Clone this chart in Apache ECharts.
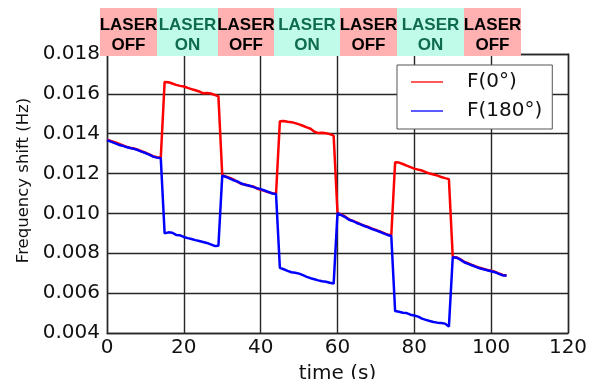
<!DOCTYPE html>
<html>
<head>
<meta charset="utf-8">
<script src="https://cdn.jsdelivr.net/npm/echarts@6/dist/echarts.min.js"></script>
<style>
  html, body { margin: 0; padding: 0; background: #fff; }
  #main { width: 589px; height: 379px; }
</style>
</head>
<body>
<div id="main"></div>
<script>
// time (s), one sample per second
var timeS = [
  0, 1, 2, 3, 4, 5, 6, 7, 8, 9, 10, 11, 12, 13, 14,
  15, 16, 17, 18, 19, 20, 21, 22, 23, 24, 25, 26, 27, 28, 29,
  30, 31, 32, 33, 34, 35, 36, 37, 38, 39, 40, 41, 42, 43, 44,
  45, 46, 47, 48, 49, 50, 51, 52, 53, 54, 55, 56, 57, 58, 59,
  60, 61, 62, 63, 64, 65, 66, 67, 68, 69, 70, 71, 72, 73, 74,
  75, 76, 77, 78, 79, 80, 81, 82, 83, 84, 85, 86, 87, 88, 89,
  90, 91, 92, 93, 94, 95, 96, 97, 98, 99, 100, 101, 102, 103, 104
]

// F(0°)
var f0 = [
  0.01370, 0.01364, 0.01358, 0.01350, 0.01342, 0.01335, 0.01330, 0.01326, 0.01320, 0.01312, 0.01305, 0.01296, 0.01287, 0.01282, 0.01280,
  0.01660, 0.01658, 0.01652, 0.01645, 0.01640, 0.01637, 0.01630, 0.01624, 0.01618, 0.01612, 0.01603, 0.01604, 0.01602, 0.01595, 0.01588,
  0.01192, 0.01185, 0.01178, 0.01170, 0.01158, 0.01148, 0.01145, 0.01138, 0.01136, 0.01125, 0.01118, 0.01113, 0.01106, 0.01102, 0.01098,
  0.01462, 0.01464, 0.01460, 0.01458, 0.01453, 0.01447, 0.01440, 0.01432, 0.01425, 0.01410, 0.01403, 0.01405, 0.01402, 0.01398, 0.01390,
  0.01003, 0.00994, 0.00984, 0.00970, 0.00963, 0.00955, 0.00946, 0.00938, 0.00932, 0.00924, 0.00917, 0.00910, 0.00902, 0.00894, 0.00889,
  0.01257, 0.01255, 0.01248, 0.01240, 0.01232, 0.01225, 0.01220, 0.01215, 0.01207, 0.01200, 0.01195, 0.01190, 0.01183, 0.01177, 0.01172,
  0.00782, 0.00779, 0.00770, 0.00757, 0.00750, 0.00741, 0.00734, 0.00727, 0.00722, 0.00716, 0.00712, 0.00707, 0.00699, 0.00691, 0.00688
]

// F(180°)
var f180 = [
  0.01368, 0.01360, 0.01353, 0.01345, 0.01340, 0.01333, 0.01328, 0.01324, 0.01318, 0.01310, 0.01303, 0.01295, 0.01285, 0.01280, 0.01277,
  0.00900, 0.00905, 0.00903, 0.00892, 0.00890, 0.00882, 0.00876, 0.00872, 0.00866, 0.00862, 0.00857, 0.00852, 0.00845, 0.00837, 0.00838,
  0.01190, 0.01183, 0.01175, 0.01166, 0.01160, 0.01150, 0.01143, 0.01140, 0.01133, 0.01127, 0.01122, 0.01115, 0.01108, 0.01100, 0.01097,
  0.00727, 0.00720, 0.00712, 0.00705, 0.00702, 0.00698, 0.00690, 0.00682, 0.00675, 0.00670, 0.00664, 0.00660, 0.00657, 0.00652, 0.00648,
  0.01002, 0.00992, 0.00982, 0.00968, 0.00962, 0.00952, 0.00945, 0.00937, 0.00930, 0.00922, 0.00915, 0.00908, 0.00900, 0.00892, 0.00887,
  0.00510, 0.00507, 0.00502, 0.00500, 0.00492, 0.00488, 0.00482, 0.00472, 0.00466, 0.00460, 0.00455, 0.00452, 0.00450, 0.00447, 0.00432,
  0.00780, 0.00778, 0.00768, 0.00755, 0.00747, 0.00740, 0.00732, 0.00725, 0.00720, 0.00715, 0.00710, 0.00705, 0.00697, 0.00690, 0.00687
]

var seriesNames = ['F(0°)', 'F(180°)']
var laserStates = ['OFF', 'ON', 'OFF', 'ON', 'OFF', 'ON', 'OFF']

// layout of the laser boxes above the plot (px)
var boxEdges = [100, 157, 218, 274, 340, 397, 464, 521]

function pairs(xs, ys) {
  return xs.map(function (x, i) { return [x, ys[i]] })
}

var chart = echarts.init(document.getElementById('main'))

var tickFont = { color: '#111', fontSize: 20, fontFamily: 'DejaVu Sans' }
var gridLine = { show: true, lineStyle: { color: '#262626', width: 1.4 } }
var spine = { show: true, onZero: false, lineStyle: { color: '#262626', width: 1.4 } }
var inTick = { show: true, inside: true, length: 5, lineStyle: { color: '#262626' } }

var boxes = []
laserStates.forEach(function (state, i) {
  var x0 = boxEdges[i]
  var x1 = boxEdges[i + 1]
  var on = state === 'ON'
  boxes.push({
    type: 'rect',
    z: 100,
    shape: { x: x0, y: 8, width: x1 - x0, height: 48 },
    style: { fill: on ? '#c0fbea' : '#ffb0b0' }
  })
  boxes.push({
    type: 'text',
    z: 101,
    x: (x0 + x1) / 2,
    y: 35,
    style: {
      text: 'LASER\n' + state,
      fill: on ? '#0f6b4d' : '#000',
      font: 'bold 17px "Liberation Sans", Arial',
      lineHeight: 20,
      align: 'center',
      verticalAlign: 'middle'
    }
  })
})

var option = {
  animation: false,
  grid: { left: 107, right: 21, top: 54, bottom: 46, outerBoundsMode: 'none' },
  legend: {
    left: 397,
    top: 65,
    orient: 'vertical',
    data: seriesNames,
    icon: 'rect',
    backgroundColor: '#fff',
    borderColor: '#555',
    borderWidth: 1,
    borderRadius: 0,
    padding: [7, 10, 8, 14],
    itemWidth: 32,
    itemHeight: 1.3,
    itemGap: 9,
    textStyle: {
      color: '#111',
      fontSize: 20,
      lineHeight: 20,
      fontFamily: 'DejaVu Sans',
      padding: [0, 0, 0, 19]
    }
  },
  xAxis: [
    {
      type: 'value',
      min: 0,
      max: 120,
      interval: 20,
      name: 'time (s)',
      nameLocation: 'middle',
      nameGap: 31,
      nameTextStyle: { color: '#111', fontSize: 20, fontFamily: 'DejaVu Sans' },
      axisLine: spine,
      axisTick: inTick,
      axisLabel: Object.assign({ margin: 5 }, tickFont),
      splitLine: gridLine
    },
    {
      type: 'value',
      position: 'top',
      min: 0,
      max: 120,
      interval: 20,
      axisLine: spine,
      axisTick: inTick,
      axisLabel: { show: false },
      splitLine: { show: false }
    }
  ],
  yAxis: [
    {
      type: 'value',
      min: 0.004,
      max: 0.018,
      interval: 0.002,
      name: 'Frequency shift (Hz)',
      nameLocation: 'middle',
      nameGap: 74,
      nameTextStyle: {
        color: '#111',
        fontSize: 16.5,
        fontFamily: 'DejaVu Sans',
        padding: [0, 0, 0, 26]
      },
      axisLine: spine,
      axisTick: inTick,
      axisLabel: Object.assign({
        margin: 7,
        formatter: function (v) { return v.toFixed(3) }
      }, tickFont),
      splitLine: gridLine
    },
    {
      type: 'value',
      position: 'right',
      min: 0.004,
      max: 0.018,
      interval: 0.002,
      axisLine: spine,
      axisTick: inTick,
      axisLabel: { show: false },
      splitLine: { show: false }
    }
  ],
  series: [
    {
      name: seriesNames[0],
      type: 'line',
      symbol: 'none',
      color: '#ff0000',
      lineStyle: { color: '#ff0000', width: 2.5 },
      data: pairs(timeS, f0)
    },
    {
      name: seriesNames[1],
      type: 'line',
      symbol: 'none',
      color: '#0000ff',
      lineStyle: { color: '#0000ff', width: 2.5 },
      data: pairs(timeS, f180)
    }
  ],
  graphic: boxes
}

chart.setOption(option)
</script>
</body>
</html>
